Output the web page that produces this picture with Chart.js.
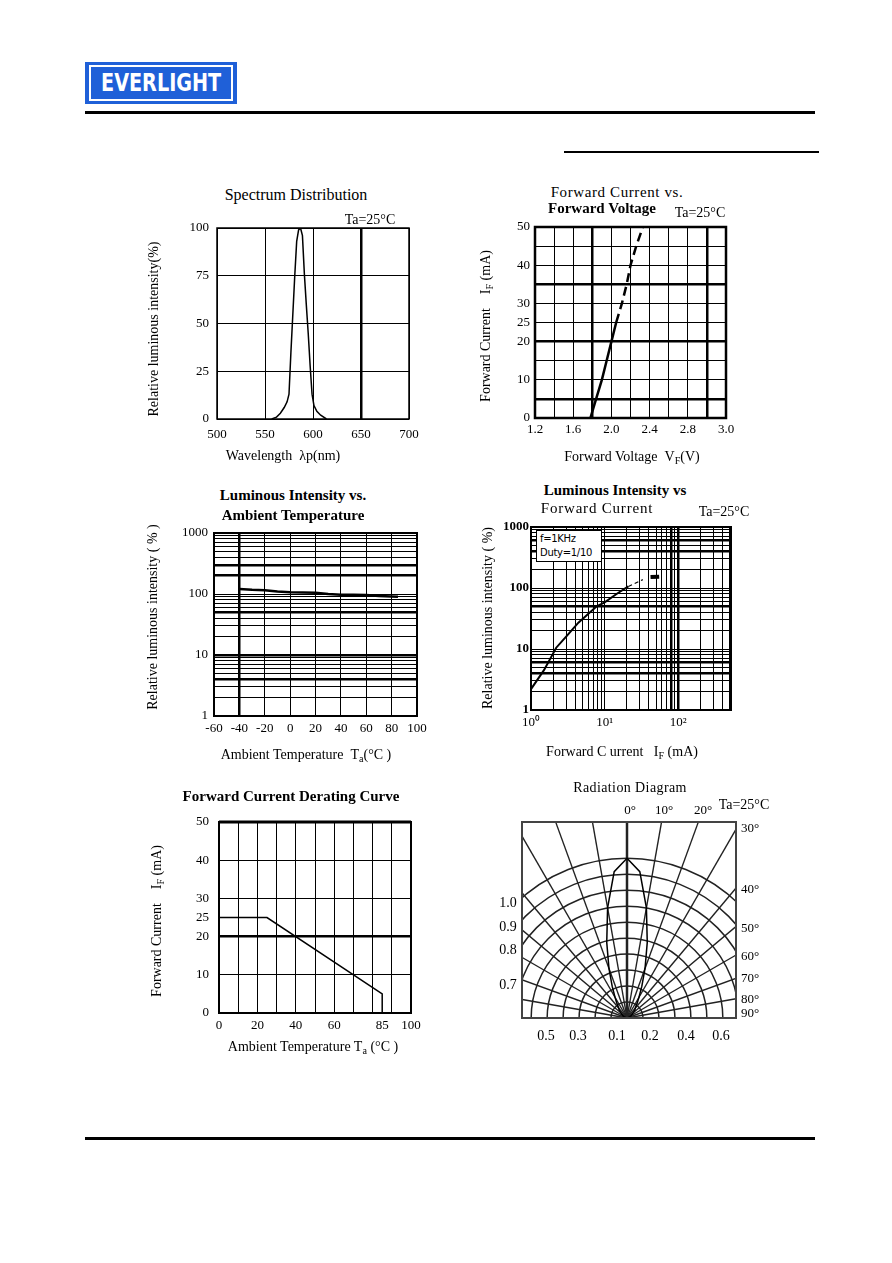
<!DOCTYPE html>
<html>
<head>
<meta charset="utf-8">
<title>Everlight LED typical characteristics</title>
<script src="https://cdn.jsdelivr.net/npm/chart.js@4.4.1/dist/chart.umd.min.js"></script>
<style>
  html, body { margin: 0; padding: 0; background: #fff; }
  #page { position: relative; width: 892px; height: 1263px; overflow: hidden; font-family: "Liberation Serif", "Times New Roman", serif; color: #000; }
  #page canvas { position: absolute; }
  .t { position: absolute; white-space: nowrap; line-height: 1; transform: translate(-50%, -50%); }
  .t.rot { transform: translate(-50%, -50%) rotate(-90deg); }
  .t sub { font-size: 72%; vertical-align: -0.3em; line-height: 0; }
  .rule { position: absolute; background: #000; }
  #logo { position: absolute; left: 85px; top: 62px; width: 152px; height: 42px; background: #1f60d8; }
  #logo .in { position: absolute; left: 4px; top: 3px; right: 4px; bottom: 3px; border: 2px solid #fff; display: flex; align-items: center; justify-content: center; }
  #logo span { color: #fff; font: 600 24px "DejaVu Sans", sans-serif; transform: scaleX(0.8); }
  #rad-box { position: absolute; left: 522px; top: 822px; width: 214px; height: 196px; overflow: hidden; }
  #rad-frame { position: absolute; left: 521px; top: 821px; width: 212px; height: 194px; border: 2px solid #444; }
  #pulse { position: absolute; left: 536px; top: 530px; width: 61px; height: 29px; border: 1px solid #000; background: #fff;
           font: 10px "DejaVu Sans", sans-serif; line-height: 14px; padding: 1px 0 0 3px; letter-spacing: -0.3px; }
</style>
</head>
<body>
<div id="page">
  <div id="logo"><div class="in"><span>EVERLIGHT</span></div></div>
  <div class="rule" style="left:85px;top:111px;width:730px;height:3px"></div>
  <div class="rule" style="left:564px;top:151px;width:255px;height:2px"></div>
  <div class="rule" style="left:85px;top:1137px;width:730px;height:3px"></div>
  <div id="rad-box"></div>
  <div id="rad-frame"></div>
</div>
<script>
// spectrum distribution
const specNm = [557, 562, 566, 570, 573, 575, 577, 579, 581, 583, 585, 587, 589, 591, 593, 595, 597, 599, 601, 604, 608, 614];
const specPct = [0, 1, 3, 6, 9, 13, 35, 55, 75, 93, 99, 100, 96, 76, 60, 45, 28, 13, 7, 4, 2, 0];
const specXTicks = [500, 550, 600, 650, 700];
const specYTicks = [0, 25, 50, 75, 100];

// forward current vs forward voltage (x in grid units of 0.2 V)
const vfVolt = [1.78, 1.84, 1.9, 1.95, 2.0, 2.05, 2.11, 2.16, 2.2, 2.26, 2.33];
const vfCurr = [0, 5, 10, 15, 20, 25, 30, 35, 40, 45, 50];
const vfXTicks = [1.2, 1.4, 1.6, 1.8, 2.0, 2.2, 2.4, 2.6, 2.8, 3.0, 3.2];
const vfXLabels = ["1.2", "", "1.6", "", "2.0", "", "2.4", "", "2.8", "", "3.0"];
const vfYTicks = [0, 5, 10, 15, 20, 25, 30, 35, 40, 45, 50];
const vfYLabels = [0, 10, 20, 25, 30, 40, 50];

// luminous intensity vs ambient temperature
const taTemp = [-40, -30, -20, -10, 0, 10, 20, 30, 40, 50, 60, 70, 80, 85];
const taIv = [121, 117, 115, 110, 107, 106, 105, 100, 97, 97, 96, 93, 91, 90];
const taXTicks = [-60, -40, -20, 0, 20, 40, 60, 80, 100];
const logYLabels = [1, 10, 100, 1000];

// luminous intensity vs forward current
const ifI = [1, 1.5, 2.2, 3, 4.4, 7.8, 10, 15, 21];
const ifIv = [2.2, 4.5, 10.5, 16, 27, 50, 58, 82, 106];
const ifTailI = [21, 33];
const ifTailIv = [106, 137];
const ifMarkI = [42, 55];
const ifMarkIv = [151, 153];
const ifXLabelVals = [1, 10, 100];
const ifXLabelText = ["10\u2070", "10\u00b9", "10\u00b2"];

// derating curve
const drTemp = [0, 25, 85, 85];
const drCurr = [25, 25, 5, 0];
const drXTicks = [0, 10, 20, 30, 40, 50, 60, 70, 80, 85, 90, 100];
const drXLabels = [0, 20, 40, 60, 85, 100];
const drYTicks = [0, 10, 20, 25, 30, 40, 50];

// radiation diagram, right half (0..90 deg every 5 deg)
const radAngle = [0, 5, 10, 15, 20, 25, 30, 35, 40, 45, 50, 55, 60, 65, 70, 75, 80, 85, 90];
const radRel = [1.0, 0.92, 0.7, 0.49, 0.33, 0.22, 0.15, 0.11, 0.08, 0.07, 0.05, 0.04, 0.03, 0.02, 0.01, 0, 0, 0, 0];
const radRings = [0, 0.1, 0.2, 0.3, 0.4, 0.5, 0.6, 0.7, 0.8, 0.9, 1.0];

const page = document.getElementById("page");
const M = { l: 70, t: 22, r: 26, b: 36 };
const YW = 44, XH = 26;

Chart.defaults.font.family = '"Liberation Serif", "Times New Roman", serif';
Chart.defaults.font.size = 13;
Chart.defaults.color = "#000";
Chart.defaults.animation = false;
Chart.defaults.plugins.legend.display = false;
Chart.defaults.plugins.tooltip.enabled = false;

const framePlugin = {
  id: "frame",
  afterDraw(chart, args, opts) {
    const a = chart.chartArea, ctx = chart.ctx;
    ctx.save();
    ctx.strokeStyle = "#000";
    ctx.lineWidth = opts.width || 2;
    ctx.strokeRect(a.left, a.top, a.right - a.left, a.bottom - a.top);
    if (opts.top) {
      ctx.lineWidth = opts.top;
      ctx.beginPath();
      ctx.moveTo(a.left, a.top);
      ctx.lineTo(a.right, a.top);
      ctx.stroke();
    }
    ctx.restore();
  },
};

function place(plot) {
  const [L, T, R, B] = plot;
  const c = document.createElement("canvas");
  c.width = R - L + M.l + M.r;
  c.height = B - T + M.t + M.b;
  c.style.left = L - M.l + "px";
  c.style.top = T - M.t + "px";
  page.appendChild(c);
  return c;
}

function hit(list, v) {
  return (list || []).some((t) => Math.abs(t - v) < 1e-6);
}

function axis(dir, o) {
  return {
    type: o.type || "linear",
    bounds: "data",
    min: o.min,
    max: o.max,
    afterBuildTicks: (s) => { s.ticks = o.at.map((v) => ({ value: v })); },
    afterFit: (s) => { if (dir === "x") s.height = XH; else s.width = YW; },
    border: { display: false },
    grid: {
      drawTicks: false,
      color: (c) => (c.tick && hit(o.skip, c.tick.value) ? "rgba(0,0,0,0)" : "#000"),
      lineWidth: (c) => (c.tick && hit(o.thick, c.tick.value) ? 2.5 : 1),
    },
    ticks: {
      autoSkip: false,
      maxRotation: 0,
      padding: o.pad,
      font: { size: 13, weight: o.bold ? "bold" : "normal" },
      callback: o.label || ((v) => String(v)),
    },
  };
}

function pts(xs, ys) {
  return xs.map((x, i) => ({ x, y: ys[i] }));
}

function line(data, extra) {
  return Object.assign({ data, borderColor: "#000", borderWidth: 1.5, pointRadius: 0, fill: false, tension: 0 }, extra);
}

function lineChart(plot, datasets, x, y, frame) {
  return new Chart(place(plot), {
    type: "line",
    data: { datasets },
    options: {
      responsive: false,
      layout: { padding: { left: M.l - YW, top: M.t, right: M.r, bottom: M.b - XH } },
      scales: { x: axis("x", x), y: axis("y", y) },
      plugins: { frame },
    },
    plugins: [framePlugin],
  });
}

function logTicks(max) {
  const out = [];
  [1, 10, 100, 1000].forEach((d) => {
    for (let m = 1; m < 10; m++) if (m * d <= max) out.push(m * d);
  });
  return out;
}

function txt(html, x, y, size, opt) {
  const d = document.createElement("div");
  d.className = "t" + (opt && opt.rot ? " rot" : "");
  d.innerHTML = html;
  d.style.left = x + "px";
  d.style.top = y + "px";
  d.style.fontSize = size + "px";
  if (opt && opt.bold) d.style.fontWeight = "bold";
  if (opt && opt.ls) d.style.letterSpacing = opt.ls + "px";
  page.appendChild(d);
}

// 1. spectrum distribution
lineChart([217, 228, 409, 419],
  [line(pts(specNm, specPct), { borderWidth: 1.5 })],
  { min: 500, max: 700, at: specXTicks, thick: [650], pad: 8 },
  { min: 0, max: 100, at: specYTicks, pad: 8 },
  { width: 1.5 });

// 2. forward current vs forward voltage
lineChart([535, 227, 726, 418],
  [
    line(pts(vfVolt.slice(0, 6), vfCurr.slice(0, 6)), { borderWidth: 2.5 }),
    line(pts(vfVolt.slice(5), vfCurr.slice(5)), { borderWidth: 2.5, borderDash: [9, 5] }),
  ],
  { min: 1.2, max: 3.2, at: vfXTicks, thick: [1.8, 3.0], pad: 4, label: (v, i) => vfXLabels[i] },
  { min: 0, max: 50, at: vfYTicks, thick: [5, 20, 35], pad: 5, label: (v) => (vfYLabels.includes(v) ? String(v) : "") },
  { width: 2.5 });

// 3. luminous intensity vs ambient temperature
lineChart([214, 533, 417, 716],
  [line(pts(taTemp, taIv), { borderWidth: 2.5 })],
  { min: -60, max: 100, at: taXTicks, thick: [-40], pad: 5 },
  { type: "logarithmic", min: 1, max: 1000, at: logTicks(1000), thick: [4, 10, 50, 200, 300], pad: 6,
    label: (v) => (logYLabels.includes(v) ? String(v) : "") },
  { width: 2 });

// 4. luminous intensity vs forward current
lineChart([531, 527, 731, 710],
  [
    line(pts(ifI, ifIv), { borderWidth: 2 }),
    line(pts(ifTailI, ifTailIv), { borderWidth: 1.2, borderDash: [4, 3] }),
    line(pts(ifMarkI, ifMarkIv), { borderWidth: 4 }),
  ],
  { type: "logarithmic", min: 1, max: 520, at: logTicks(520), thick: [80, 100], pad: 5,
    label: (v) => (ifXLabelVals.includes(v) ? ifXLabelText[ifXLabelVals.indexOf(v)] : "") },
  { type: "logarithmic", min: 1, max: 1000, at: logTicks(1000), thick: [4, 6, 50, 400, 600], pad: 2, bold: true,
    label: (v) => (logYLabels.includes(v) ? String(v) : "") },
  { width: 2 });

// 5. forward current derating curve
lineChart([219, 822, 411, 1013],
  [line(pts(drTemp, drCurr), { borderWidth: 1.5 })],
  { min: 0, max: 100, at: drXTicks, skip: [85], pad: 5, label: (v) => (drXLabels.includes(v) ? String(v) : "") },
  { min: 0, max: 50, at: drYTicks, skip: [25], thick: [20], pad: 10 },
  { width: 2, top: 3 });

// 6. radiation diagram (polar grid centred on the bottom edge)
const radLabels = [];
const radData = [];
for (let k = 0; k < 72; k++) {
  const deg = k * 5;
  const a = deg <= 180 ? deg : 360 - deg;
  radLabels.push(deg + "\u00b0");
  radData.push(a <= 90 ? radRel[radAngle.indexOf(a)] : 0);
}
const radCanvas = document.createElement("canvas");
radCanvas.width = 460;
radCanvas.height = 460;
radCanvas.style.left = "-125px";
radCanvas.style.top = "-34px";
document.getElementById("rad-box").appendChild(radCanvas);
new Chart(radCanvas, {
  type: "radar",
  data: {
    labels: radLabels,
    datasets: [{ data: radData, borderColor: "#000", borderWidth: 1.5, pointRadius: 0, fill: false, tension: 0 }],
  },
  options: {
    responsive: false,
    scales: {
      r: {
        min: 0,
        max: 1.44,
        bounds: "data",
        afterBuildTicks: (s) => { s.ticks = radRings.map((v) => ({ value: v })); },
        ticks: { display: false },
        pointLabels: { display: false },
        grid: { circular: true, color: "#222", lineWidth: 1.5 },
        angleLines: {
          color: (c) => (c.index % 2 ? "rgba(0,0,0,0)" : "#222"),
          lineWidth: (c) => (c.index === 0 ? 2.5 : 1.4),
        },
      },
    },
  },
});

// titles and axis names
txt("Spectrum Distribution", 296, 195, 16);
txt("Ta=25\u00b0C", 370, 220, 14);
txt("Relative luminous intensity(%)", 154, 329, 14, { rot: true });
txt("Wavelength &nbsp;\u03bbp(nm)", 283, 456, 14);

txt("Forward Current vs.", 617, 192, 15, { ls: 0.6 });
txt("Forward Voltage", 602, 208, 15, { bold: true });
txt("Ta=25\u00b0C", 700, 213, 14);
txt("Forward Current &nbsp;&nbsp;&nbsp;I<sub>F</sub> (mA)", 486, 326, 14, { rot: true });
txt("Forward Voltage &nbsp;V<sub>F</sub>(V)", 632, 457, 14);

txt("Luminous Intensity vs.", 293, 495, 15, { bold: true });
txt("Ambient Temperature", 293, 515, 15, { bold: true });
txt("Relative luminous intensity ( % )", 153, 617, 14, { rot: true });
txt("Ambient Temperature &nbsp;T<sub>a</sub>(\u00b0C )", 306, 755, 14);

txt("Luminous Intensity vs", 615, 490, 15, { bold: true });
txt("Forward Current", 597, 508, 15, { ls: 0.8 });
txt("Ta=25\u00b0C", 724, 512, 14);
txt("Relative luminous intensity ( %)", 488, 618, 14, { rot: true });
txt("Forward C urrent &nbsp;&nbsp;I<sub>F</sub> (mA)", 622, 752, 14);
const pulse = document.createElement("div");
pulse.id = "pulse";
pulse.innerHTML = "f=1KHz<br>Duty=1/10";
page.appendChild(pulse);

txt("Forward Current Derating Curve", 291, 796, 15, { bold: true });
txt("Forward Current &nbsp;&nbsp;&nbsp;I<sub>F</sub> (mA)", 157, 921, 14, { rot: true });
txt("Ambient Temperature T<sub>a</sub> (\u00b0C )", 313, 1047, 14);

txt("Radiation Diagram", 630, 788, 14, { ls: 0.4 });
txt("Ta=25\u00b0C", 744, 805, 14);
[["0\u00b0", 630], ["10\u00b0", 664], ["20\u00b0", 703]].forEach(([s, x]) => txt(s, x, 809, 13));
[["30\u00b0", 827], ["40\u00b0", 888], ["50\u00b0", 927], ["60\u00b0", 955], ["70\u00b0", 977], ["80\u00b0", 998], ["90\u00b0", 1012]]
  .forEach(([s, y]) => txt(s, 750, y, 13));
[["1.0", 903], ["0.9", 927], ["0.8", 950], ["0.7", 985]].forEach(([s, y]) => txt(s, 508, y, 14));
[["0.5", 546], ["0.3", 578], ["0.1", 617], ["0.2", 650], ["0.4", 686], ["0.6", 721]].forEach(([s, x]) => txt(s, x, 1036, 14));
</script>
</body>
</html>
